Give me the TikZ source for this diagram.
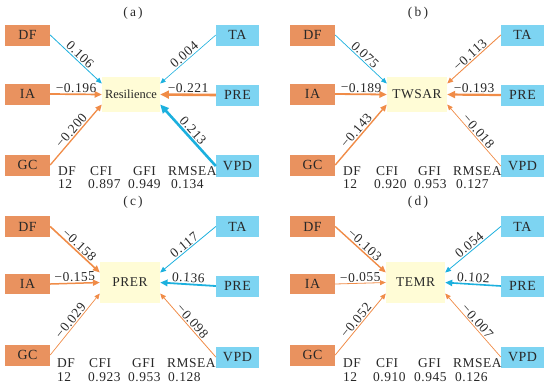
\documentclass[tikz,border=0pt]{standalone}
\usepackage{fontspec}
\setmainfont{Liberation Serif}[LetterSpace=4]
\newfontfamily\plainfnt{Liberation Serif}
\usetikzlibrary{arrows.meta}
\definecolor{obox}{RGB}{233,146,95}
\definecolor{bbox}{RGB}{125,212,242}
\definecolor{ybox}{RGB}{255,252,214}
\definecolor{oline}{RGB}{240,140,72}
\definecolor{bline}{RGB}{28,176,222}
\definecolor{txt}{RGB}{40,40,40}
\newcommand{\fnt}{\fontsize{13.5}{14}\selectfont}
\newcommand{\bfnt}{\fontsize{14}{14}\selectfont}
\tikzset{
  ob/.style={fill=obox, minimum width=45bp, minimum height=21bp, inner sep=0pt, font=\bfnt, text=txt},
  bb/.style={fill=bbox, minimum width=43bp, minimum height=21bp, inner sep=0pt, font=\bfnt, text=txt},
  cb/.style={fill=ybox, inner sep=0pt, font=\fnt, text=txt},
  ttl/.style={inner sep=0pt, font=\fnt, text=txt},
  st/.style={anchor=west, inner sep=0pt, font=\fnt, text=txt},
  tipa/.style={-{Triangle[length=4.5pt 1.6, width=3.6pt 1.6]}},
  eo/.style={draw=oline, tipa},
  eb/.style={draw=bline, tipa},
  lab/.style={sloped, above, inner sep=1bp, font=\fnt, text=txt, pos=0.5}
}
\begin{document}
\begin{tikzpicture}[x=1bp,y=-1bp]
\useasboundingbox (0,0) rectangle (550,388);

% ---------------- panel (a)
\node[ttl] (aT) at (133,13) {(\,a\,)};
\node[ob] (aDF) at (27.5,35) {DF};
\node[ob] (aIA) at (27.5,94) {IA};
\node[ob] (aGC) at (27.5,165) {GC};
\node[bb] (aTA) at (237.5,35) {TA};
\node[bb] (aPRE) at (237.5,95) {PRE};
\node[bb, minimum height=22bp] (aVPD) at (237.5,166) {VPD};
\node[cb, minimum width=58bp, minimum height=35bp, font={\plainfnt\fontsize{12.5}{13}\selectfont}] (aC) at (131,94.5) {Resilience};
\draw[eb, line width=0.8bp] (aDF.east) -- node[lab]{0.106} ([yshift=11bp]aC.west);
\draw[eo, line width=1.7bp] (aIA.east) -- node[lab]{−0.196} (aC.west);
\draw[eo, line width=1.3bp] (aGC.east) -- node[lab]{−0.200} ([yshift=-10bp]aC.west);
\draw[eb, line width=0.6bp] (aTA.west) -- node[lab]{0.004} ([yshift=11bp]aC.east);
\draw[eo, line width=2.6bp] (aPRE.west) -- node[lab]{−0.221} (aC.east);
\draw[eb, line width=2.6bp] (aVPD.west) -- node[lab]{0.213} ([yshift=-10bp]aC.east);
\node[st] (aH1) at (58,171) {DF};
\node[st] (aH2) at (90,171) {CFI};
\node[st] (aH3) at (133,171) {GFI};
\node[st] (aH4) at (168,171) {RMSEA};
\node[st] (aV1) at (58,184) {12};
\node[st] (aV2) at (88,184) {0.897};
\node[st] (aV3) at (128,184) {0.949};
\node[st] (aV4) at (171,184) {0.134};

% ---------------- panel (b)
\begin{scope}[shift={(285,0)}]
\node[ttl] (bT) at (133,13) {(\,b\,)};
\node[ob] (bDF) at (27.5,35) {DF};
\node[ob] (bIA) at (27.5,94) {IA};
\node[ob] (bGC) at (27.5,165) {GC};
\node[bb] (bTA) at (237.5,35) {TA};
\node[bb] (bPRE) at (237.5,95) {PRE};
\node[bb, minimum height=22bp] (bVPD) at (237.5,166) {VPD};
\node[cb, minimum width=60bp, minimum height=35bp] (bC) at (132,94.5) {TWSAR};
\draw[eb, line width=0.7bp] (bDF.east) -- node[lab]{0.075} ([yshift=11bp]bC.west);
\draw[eo, line width=1.8bp] (bIA.east) -- node[lab]{−0.189} (bC.west);
\draw[eo, line width=1.4bp] (bGC.east) -- node[lab]{−0.143} ([yshift=-10bp]bC.west);
\draw[eo, line width=0.9bp] (bTA.west) -- node[lab]{−0.113} ([yshift=11bp]bC.east);
\draw[eo, line width=2.2bp] (bPRE.west) -- node[lab]{−0.193} (bC.east);
\draw[eo, line width=0.7bp] (bVPD.west) -- node[lab]{−0.018} ([yshift=-10bp]bC.east);
\node[st] (bH1) at (58,171) {DF};
\node[st] (bH2) at (91,171) {CFI};
\node[st] (bH3) at (133,171) {GFI};
\node[st] (bH4) at (168,171) {RMSEA};
\node[st] (bV1) at (58,184) {12};
\node[st] (bV2) at (89,184) {0.920};
\node[st] (bV3) at (129,184) {0.953};
\node[st] (bV4) at (171,184) {0.127};
\end{scope}

% ---------------- panel (c)
\node[ttl] (cT) at (133,202) {(\,c\,)};
\node[ob] (cDF) at (27.5,226.5) {DF};
\node[ob, minimum height=20bp] (cIA) at (27.5,284) {IA};
\node[ob] (cGC) at (27.5,355) {GC};
\node[bb] (cTA) at (237.5,226.5) {TA};
\node[bb] (cPRE) at (237.5,286) {PRE};
\node[bb] (cVPD) at (237.5,357) {VPD};
\node[cb, minimum width=60bp, minimum height=41bp] (cC) at (130,282.5) {PRER};
\draw[eo, line width=1.6bp] (cDF.east) -- node[lab]{−0.158} ([yshift=10bp]cC.west);
\draw[eo, line width=1.5bp] (cIA.east) -- node[lab]{−0.155} (cC.west);
\draw[eo, line width=0.7bp] (cGC.east) -- node[lab]{−0.029} ([yshift=-11bp]cC.west);
\draw[eb, line width=0.8bp] (cTA.west) -- node[lab]{0.117} ([yshift=10bp]cC.east);
\draw[eb, line width=1.8bp] (cPRE.west) -- node[lab]{0.136} (cC.east);
\draw[eo, line width=0.8bp] (cVPD.west) -- node[lab]{−0.098} ([yshift=-11bp]cC.east);
\node[st] (cH1) at (57,363) {DF};
\node[st] (cH2) at (89,363) {CFI};
\node[st] (cH3) at (132,363) {GFI};
\node[st] (cH4) at (167,363) {RMSEA};
\node[st] (cV1) at (57,377) {12};
\node[st] (cV2) at (88,377) {0.923};
\node[st] (cV3) at (128,377) {0.953};
\node[st] (cV4) at (168,377) {0.128};

% ---------------- panel (d)
\begin{scope}[shift={(285,0)}]
\node[ttl] (dT) at (133,202) {(\,d\,)};
\node[ob] (dDF) at (27.5,226.5) {DF};
\node[ob, minimum height=20bp] (dIA) at (27.5,284) {IA};
\node[ob] (dGC) at (27.5,355) {GC};
\node[bb] (dTA) at (237.5,226.5) {TA};
\node[bb] (dPRE) at (237.5,286) {PRE};
\node[bb] (dVPD) at (237.5,357) {VPD};
\node[cb, minimum width=59bp, minimum height=41bp] (dC) at (130.5,282.5) {TEMR};
\draw[eo, line width=1.4bp] (dDF.east) -- node[lab]{−0.103} ([yshift=10bp]dC.west);
\draw[eo, line width=0.8bp] (dIA.east) -- node[lab]{−0.055} (dC.west);
\draw[eo, line width=0.8bp] (dGC.east) -- node[lab]{−0.052} ([yshift=-11bp]dC.west);
\draw[eb, line width=0.8bp] (dTA.west) -- node[lab]{0.054} ([yshift=10bp]dC.east);
\draw[eb, line width=1.6bp] (dPRE.west) -- node[lab]{0.102} (dC.east);
\draw[eo, line width=0.7bp] (dVPD.west) -- node[lab]{−0.007} ([yshift=-11bp]dC.east);
\node[st] (dH1) at (58,363) {DF};
\node[st] (dH2) at (91,363) {CFI};
\node[st] (dH3) at (133,363) {GFI};
\node[st] (dH4) at (168,363) {RMSEA};
\node[st] (dV1) at (58,377) {12};
\node[st] (dV2) at (88,377) {0.910};
\node[st] (dV3) at (129,377) {0.945};
\node[st] (dV4) at (170,377) {0.126};
\end{scope}
\end{tikzpicture}
\end{document}
